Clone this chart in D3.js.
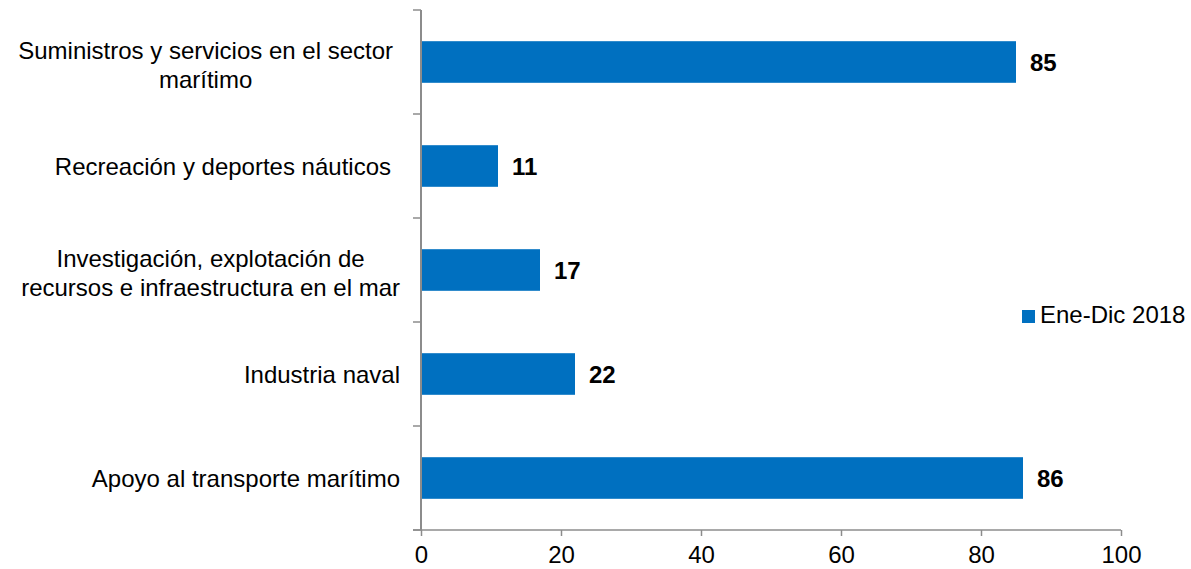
<!DOCTYPE html>
<html><head><meta charset="utf-8">
<script src="https://cdn.jsdelivr.net/npm/d3@7"></script>
<style>body{margin:0;background:#fff}svg{display:block}text{font-family:"Liberation Sans",Arial,sans-serif}</style>
</head><body>
<svg id="c" width="1191" height="569"></svg>
<script>
const categories = [
  ["Suministros y servicios en el sector", "marítimo"],
  ["Recreación y deportes náuticos"],
  ["Investigación, explotación de", "recursos e infraestructura en el mar"],
  ["Industria naval"],
  ["Apoyo al transporte marítimo"]
];
const catRightEdge = [393, 391, 400, 400, 400];
const values = [85, 11, 17, 22, 86];
const xTicks = [0, 20, 40, 60, 80, 100];
const seriesName = "Ene-Dic 2018";

const svg = d3.select("#c");
const color = "#0070C0", axisColor = "#8c8c8c";
const FS = 24;
const x = d3.scaleLinear().domain([0, 100]).range([421, 1121]);
const y = d3.scaleBand().domain(d3.range(categories.length)).range([10, 530]).paddingInner(0.6).paddingOuter(0.3);

// bars
svg.selectAll("rect.bar").data(values).join("rect")
  .attr("x", x(0)).attr("y", (d, i) => y(i))
  .attr("width", d => x(d) - x(0)).attr("height", y.bandwidth())
  .attr("fill", color);

// value labels
svg.selectAll("text.val").data(values).join("text")
  .attr("x", d => x(d) + 14).attr("y", (d, i) => y(i) + y.bandwidth() / 2 + 9)
  .attr("font-size", FS).attr("font-weight", "bold").attr("fill", "#000")
  .text(d => d);

// y axis line and ticks
const bandStep = (530 - 10) / categories.length;
svg.append("line").attr("x1", 421).attr("x2", 421).attr("y1", 10).attr("y2", 530)
  .attr("stroke", axisColor).attr("stroke-width", 2);
svg.selectAll("line.yt").data(d3.range(categories.length + 1)).join("line")
  .attr("x1", 413).attr("x2", 421)
  .attr("y1", i => 10 + i * bandStep).attr("y2", i => 10 + i * bandStep)
  .attr("stroke", axisColor).attr("stroke-width", 1.5);

// x axis
const xAxis = d3.axisBottom(x).tickValues(xTicks).tickSize(6).tickPadding(10);
const gx = svg.append("g").attr("transform", "translate(0,530)").call(xAxis);
gx.select(".domain").remove();
gx.append("line").attr("x1", 413).attr("x2", 1121).attr("y1", 0).attr("y2", 0)
  .attr("stroke", axisColor).attr("stroke-width", 1.5);
gx.selectAll(".tick line").attr("stroke", axisColor).attr("stroke-width", 1.5);
gx.selectAll(".tick text").attr("font-size", FS).attr("fill", "#000")
  .attr("font-family", '"Liberation Sans",Arial,sans-serif');

// category labels
categories.forEach((lines, i) => {
  const cy = y(i) + y.bandwidth() / 2;
  const g = svg.append("g");
  const lh = 29;
  const k = lines.length > 1 ? 11 : 8.5;
  const texts = lines.map((t, j) => g.append("text")
    .attr("font-size", FS).attr("fill", "#000")
    .attr("y", cy + (j - (lines.length - 1) / 2) * lh + k)
    .text(t));
  const widths = texts.map(t => t.node().getComputedTextLength());
  const maxW = Math.max(...widths);
  const cx = catRightEdge[i] - maxW / 2;
  texts.forEach(t => t.attr("x", cx).attr("text-anchor", "middle"));
});

// legend
svg.append("rect").attr("x", 1022).attr("y", 310).attr("width", 13).attr("height", 13).attr("fill", color);
svg.append("text").attr("x", 1040).attr("y", 323).attr("font-size", FS).attr("fill", "#000").text(seriesName);
</script>
</body></html>
